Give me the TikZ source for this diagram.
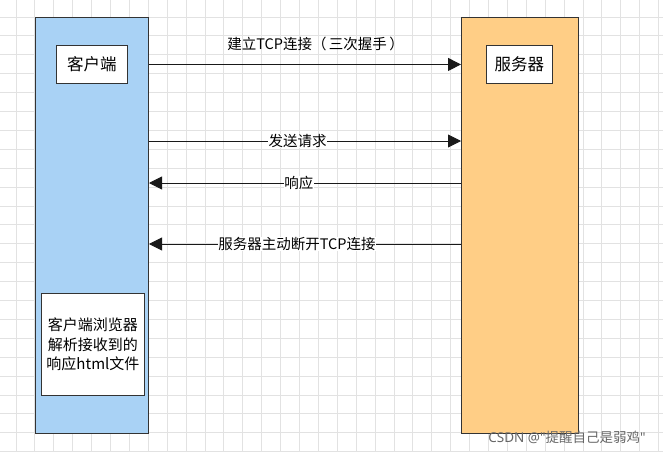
\documentclass[tikz,border=0pt]{standalone}
\usepackage{fontspec}
\setmainfont{Noto Sans CJK SC}
\newfontfamily\latinfont{Noto Sans}
\usetikzlibrary{arrows.meta}
\definecolor{clientblue}{HTML}{A9D2F5}
\definecolor{serverorange}{HTML}{FFCE86}
\definecolor{gridgray}{HTML}{E2E2E2}
\definecolor{edgegray}{HTML}{333333}

\begin{document}
\begin{tikzpicture}[x=1pt,y=-1pt,
  lane/.style={draw=edgegray, line width=1pt, inner sep=0pt, anchor=north west},
  box/.style={draw=edgegray, fill=white, line width=0.9pt, inner sep=0pt, anchor=north west, align=center, font=\fontsize{15}{19.5}\selectfont},
  msg/.style={draw=black!90, line width=0.9pt, -{Triangle[length=13pt,width=13pt]}},
  lbl/.style={fill=white, inner sep=0.5pt, font=\fontsize{14.5}{17}\selectfont}]
\useasboundingbox (0,0) rectangle (663,452);
\fill [white] (0,0) rectangle (663,452);
% grid
\foreach \i in {0,...,34}
  \draw [gridgray, line width=0.9pt] (16+18.9*\i,0) -- (16+18.9*\i,452);
\foreach \j in {0,...,23}
  \draw [gridgray, line width=0.9pt] (0,17+18.9*\j) -- (663,17+18.9*\j);
% lanes
\node [lane, fill=clientblue, minimum width=113pt, minimum height=416pt] (clientlane) at (35,17) {};
\node [lane, fill=serverorange, minimum width=117pt, minimum height=416pt] (serverlane) at (461,17) {};
% boxes
\node [box, minimum width=71pt, minimum height=38pt, font=\fontsize{16.5}{19}\selectfont] (client) at (56,45) {客户端};
\node [box, minimum width=66pt, minimum height=38pt, font=\fontsize{16.5}{19}\selectfont] (server) at (486,45) {服务器};
\node [box, minimum width=103pt, minimum height=102pt] (browser) at (41,293) {客户端浏览器\\解析接收到的\\响应html文件};
% messages
\coordinate (request) at (0,141);
\coordinate (response) at (0,183);
\coordinate (close) at (0,244);
\draw [msg] (clientlane.east |- client) -- (serverlane.west |- client)
  node [lbl, fill=none, pos=0.534, yshift=20pt] (connectlbl) {建立TCP连接（\,三次握手\,）};
\draw [msg] (clientlane.east |- request) -- (serverlane.west |- request)
  node [lbl, pos=0.476] (requestlbl) {发送请求};
\draw [msg] (serverlane.west |- response) -- (clientlane.east |- response)
  node [lbl, pos=0.52] (responselbl) {响应};
\draw [msg] (serverlane.west |- close) -- (clientlane.east |- close)
  node [lbl, pos=0.526] (closelbl) {服务器主动断开TCP连接};
% watermark
\node [text=black!60, font=\fontsize{13.5}{15}\selectfont] (mark) at (567,437) {{\latinfont CSDN @"}提醒自己是弱鸡{\latinfont "}};
\end{tikzpicture}
\end{document}
